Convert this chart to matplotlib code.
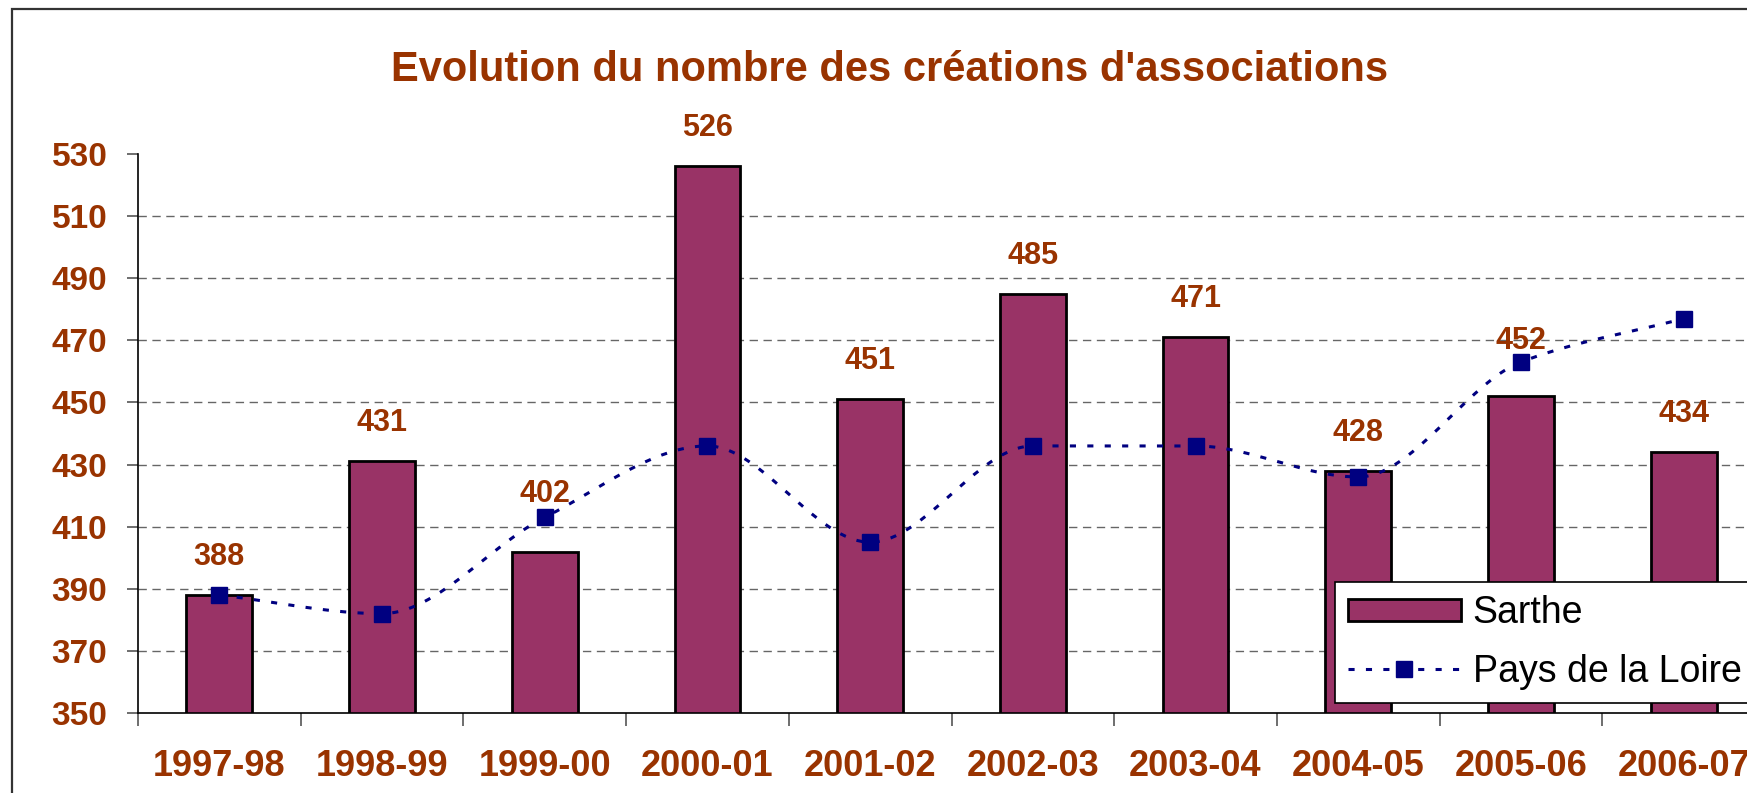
import matplotlib
matplotlib.use("Agg")
import matplotlib.pyplot as plt
import numpy as np
from matplotlib.lines import Line2D
from matplotlib.patches import Rectangle

plt.rcParams["font.family"] = ["Liberation Sans", "DejaVu Sans"]

categories = ["1997-98", "1998-99", "1999-00", "2000-01", "2001-02",
              "2002-03", "2003-04", "2004-05", "2005-06", "2006-07"]
sarthe = [388, 431, 402, 526, 451, 485, 471, 428, 452, 434]
pays_loire = [388, 382, 413, 436, 405, 436, 436, 426, 463, 477]
y_ticks = [350, 370, 390, 410, 430, 450, 470, 490, 510, 530]

BROWN = "#993300"
PLUM = "#993366"
NAVY = "#000080"
W, H = 1747, 793


def smooth_curve(ys, n=40):
    """Smoothed line through the points (monotone cubic, flat at extremes like Excel)."""
    y = np.asarray(ys, dtype=float)
    d = np.diff(y)
    m = np.zeros_like(y)
    m[0], m[-1] = d[0], d[-1]
    for k in range(1, len(y) - 1):
        if d[k - 1] * d[k] > 0:
            m[k] = 2 / (1 / d[k - 1] + 1 / d[k])
    xs, out = [], []
    t = np.linspace(0, 1, n)
    for k in range(len(y) - 1):
        h00 = 2 * t**3 - 3 * t**2 + 1
        h10 = t**3 - 2 * t**2 + t
        h01 = -2 * t**3 + 3 * t**2
        h11 = t**3 - t**2
        seg = h00 * y[k] + h10 * m[k] + h01 * y[k + 1] + h11 * m[k + 1]
        xs.append(k + t)
        out.append(seg)
    return np.concatenate(xs), np.concatenate(out)


fig = plt.figure(figsize=(W / 100, H / 100), dpi=100)
ax = fig.add_axes([138 / W, 1 - 713 / H, 1627 / W, (713 - 154) / H])

# outer chart frame (cut off on the right and bottom)
fig.patches.append(Rectangle((12 / W, -0.2), 1.5, 1.2 - 9 / H, transform=fig.transFigure,
                             fill=False, edgecolor="#333333", linewidth=1.6))

x = np.arange(len(categories))
for yv in y_ticks[1:-1]:
    ax.axhline(yv, color="#666666", linewidth=1.0, linestyle=(0, (6, 4)), zorder=0)

ax.bar(x, sarthe, width=0.405, color=PLUM, edgecolor="black", linewidth=2.0, zorder=2)

dash = (0, (2.0, 3.7))
sx, sy = smooth_curve(pays_loire)
ax.plot(sx, sy, color=NAVY, linewidth=2.2, linestyle=dash, zorder=3)
ax.plot(x, pays_loire, linestyle="none", marker="s", markersize=12, color=NAVY, zorder=4)

# value labels; two of them sit higher so they clear the line markers
lift = {2: 20, 8: 17}
for i, v in enumerate(sarthe):
    ax.annotate(str(v), (i, v), xytext=(0, 38 + lift.get(i, 0)), textcoords="offset pixels",
                ha="center", va="center", fontsize=22, fontweight="bold", color=BROWN)

ax.set_xlim(-0.5, len(categories) - 0.5)
ax.set_ylim(350, 530)
ax.set_yticks(y_ticks)
ax.set_xticks(x)
ax.set_xticklabels(categories)
ax.set_xticks(np.arange(len(categories) + 1) - 0.5, minor=True)
ax.tick_params(axis="x", which="major", length=0, pad=26, labelsize=26, labelcolor=BROWN)
ax.tick_params(axis="x", which="minor", length=9, width=1.2, color="#555555", direction="out")
ax.tick_params(axis="y", length=8, width=1.2, color="#555555", pad=14, labelsize=24, labelcolor=BROWN)
for lab in ax.get_xticklabels() + ax.get_yticklabels():
    lab.set_fontweight("bold")

for side in ["top", "right"]:
    ax.spines[side].set_visible(False)
for side in ["left", "bottom"]:
    ax.spines[side].set_linewidth(1.2)
    ax.spines[side].set_color("black")

fig.text(890 / W, 1 - 70 / H, "Evolution du nombre des créations d'associations",
         ha="center", va="center", fontsize=30, fontweight="bold", color=BROWN)

handles = [
    Rectangle((0, 0), 1, 1, facecolor=PLUM, edgecolor="black", linewidth=2.0),
    Line2D([], [], color=NAVY, linewidth=2.2, linestyle=dash, marker="s", markersize=12),
]
leg = fig.legend(handles, ["Sarthe", "Pays de la Loire"], loc="upper left",
                 bbox_to_anchor=(1335 / W, 1 - 582 / H), bbox_transform=fig.transFigure,
                 fontsize=27, frameon=True, fancybox=False, shadow=False, framealpha=1,
                 handlelength=3.0, handleheight=0.55, handletextpad=0.32,
                 borderpad=0.35, labelspacing=0.6, borderaxespad=0)
leg.get_frame().set_edgecolor("black")
leg.get_frame().set_linewidth(1.2)
leg.set_zorder(10)

fig.savefig("out.png", dpi=100)
